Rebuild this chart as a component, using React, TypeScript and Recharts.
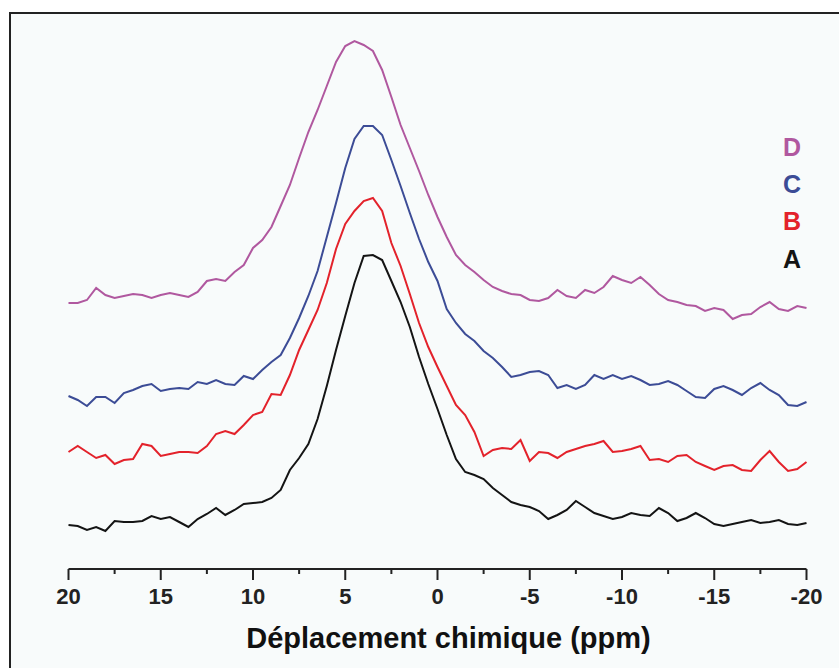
import { LineChart, Line, XAxis, YAxis, Legend, Label } from "recharts";

// chemical shift, ppm (axis runs 20 -> -20)
const PPM = [
  20, 19.5, 19, 18.5, 18, 17.5, 17, 16.5, 16, 15.5,
  15, 14.5, 14, 13.5, 13, 12.5, 12, 11.5, 11, 10.5,
  10, 9.5, 9, 8.5, 8, 7.5, 7, 6.5, 6, 5.5,
  5, 4.5, 4, 3.5, 3, 2.5, 2, 1.5, 1, 0.5,
  0, -0.5, -1, -1.5, -2, -2.5, -3, -3.5, -4, -4.5,
  -5, -5.5, -6, -6.5, -7, -7.5, -8, -8.5, -9, -9.5,
  -10, -10.5, -11, -11.5, -12, -12.5, -13, -13.5, -14, -14.5,
  -15, -15.5, -16, -16.5, -17, -17.5, -18, -18.5, -19, -19.5,
  -20,
];

// stacked spectra, intensity incl. vertical offset (arbitrary units)
const SPECTRUM_A = [
  44, 43, 39, 42, 38, 48, 47, 47, 48, 53,
  50, 52, 47, 42, 50, 55, 61, 54, 59, 65,
  66, 67, 71, 79, 99, 111, 125, 150, 183, 219,
  253, 286, 313, 314, 309, 288, 267, 242, 212, 185,
  160, 134, 110, 97, 94, 90, 81, 74, 67, 64,
  62, 58, 50, 54, 59, 68, 62, 56, 53, 50,
  52, 56, 54, 53, 61, 56, 48, 51, 56, 51,
  45, 43, 45, 47, 49, 46, 47, 49, 45, 44,
  46,
];

const SPECTRUM_B = [
  117, 123, 117, 111, 114, 105, 109, 110, 125, 123,
  113, 115, 117, 117, 116, 123, 135, 138, 135, 144,
  154, 157, 175, 174, 194, 219, 239, 259, 286, 320,
  345, 358, 368, 371, 358, 326, 303, 275, 246, 222,
  202, 183, 164, 154, 137, 113, 119, 121, 120, 129,
  108, 117, 116, 111, 117, 120, 123, 125, 128, 117,
  118, 120, 123, 109, 110, 107, 113, 114, 107, 103,
  99, 103, 104, 99, 98, 109, 118, 107, 98, 100,
  107,
];

const SPECTRUM_C = [
  173, 169, 163, 172, 172, 166, 176, 179, 183, 185,
  178, 180, 181, 180, 187, 185, 189, 185, 184, 193,
  190, 199, 207, 214, 231, 251, 273, 298, 332, 366,
  401, 430, 443, 443, 434, 409, 383, 356, 330, 307,
  288, 260, 246, 235, 228, 218, 211, 202, 192, 194,
  197, 198, 194, 181, 184, 180, 184, 194, 190, 194,
  190, 193, 189, 184, 185, 188, 184, 178, 172, 171,
  180, 183, 179, 174, 181, 186, 179, 174, 164, 163,
  167,
];

const SPECTRUM_D = [
  266, 266, 269, 281, 274, 271, 273, 275, 274, 271,
  274, 276, 274, 272, 277, 288, 290, 288, 297, 304,
  321, 329, 342, 363, 384, 411, 437, 459, 483, 507,
  523, 528, 524, 518, 499, 472, 444, 421, 398, 374,
  352, 332, 314, 304, 297, 289, 282, 278, 275, 274,
  269, 268, 271, 279, 273, 271, 279, 276, 282, 293,
  289, 286, 292, 284, 275, 269, 267, 264, 263, 258,
  261, 259, 250, 254, 255, 262, 267, 260, 258, 263,
  261,
];

const TICKS = [20, 17.5, 15, 12.5, 10, 7.5, 5, 2.5, 0, -2.5, -5, -7.5, -10, -12.5, -15, -17.5, -20];

const SERIES = [
  { key: "A", color: "#141414" },
  { key: "B", color: "#e3222b" },
  { key: "C", color: "#3c4c96" },
  { key: "D", color: "#b0589f" },
];

const data = PPM.map((ppm, i) => ({
  ppm,
  A: SPECTRUM_A[i],
  B: SPECTRUM_B[i],
  C: SPECTRUM_C[i],
  D: SPECTRUM_D[i],
}));

const FONT = '"Liberation Sans", Arial, sans-serif';
const INK = "#222";

function PpmTick({ x, y, payload }: { x: number; y: number; payload: { value: number } }) {
  const major = payload.value % 5 === 0;
  return (
    <g>
      <line x1={x} x2={x} y1={y} y2={y + (major ? 11 : 5)} stroke={INK} strokeWidth={2} />
      {major && (
        <text x={x} y={y + 35} textAnchor="middle" fontSize={22} fontWeight="bold" fill={INK} fontFamily={FONT}>
          {payload.value}
        </text>
      )}
    </g>
  );
}

function AxisTitle({ viewBox }: { viewBox?: { x: number; y: number; width: number } }) {
  if (!viewBox) return null;
  return (
    <text
      x={viewBox.x + viewBox.width / 2 + 11}
      y={viewBox.y + 79}
      textAnchor="middle"
      fontSize={29}
      fontWeight="bold"
      fill="#111"
      fontFamily={FONT}
    >
      Déplacement chimique (ppm)
    </text>
  );
}

function LetterLegend({ payload }: { payload?: { value: string; color: string }[] }) {
  const items = [...(payload ?? [])].sort((a, b) => (a.value < b.value ? 1 : -1));
  return (
    <div style={{ fontFamily: FONT, fontWeight: "bold", fontSize: 25, lineHeight: "37.3px", textAlign: "center" }}>
      {items.map((it) => (
        <div key={it.value} style={{ color: it.color }}>
          {it.value}
        </div>
      ))}
    </div>
  );
}

export default function App() {
  return (
    <div style={{ position: "absolute", left: 0, top: 0, width: 839, height: 668, background: "#fff", overflow: "hidden" }}>
      {/* frame: only top and left edges show in the original */}
      <div
        style={{
          position: "absolute",
          left: 9,
          top: 12,
          right: -4,
          bottom: -4,
          borderTop: "2px solid #222",
          borderLeft: "2px solid #222",
          background: "#f8fbfb",
        }}
      />
      <div style={{ position: "absolute", left: 0, top: 0 }}>
        <LineChart width={839} height={668} data={data} margin={{ top: 29, right: 32.5, bottom: 0, left: 68.5 }}>
          <XAxis
            dataKey="ppm"
            type="number"
            domain={[-20, 20]}
            reversed
            ticks={TICKS}
            interval={0}
            tick={PpmTick}
            tickLine={false}
            tickSize={0}
            tickMargin={0}
            axisLine={{ stroke: INK, strokeWidth: 2 }}
            height={99}
          >
            <Label content={<AxisTitle />} />
          </XAxis>
          <YAxis hide domain={[0, 540]} />
          <Legend
            layout="vertical"
            align="center"
            verticalAlign="middle"
            wrapperStyle={{ top: 128.7, left: 777, width: 30 }}
            content={<LetterLegend />}
          />
          {SERIES.map((s) => (
            <Line
              key={s.key}
              type="linear"
              dataKey={s.key}
              name={s.key}
              stroke={s.color}
              strokeWidth={2}
              dot={false}
              isAnimationActive={false}
            />
          ))}
        </LineChart>
      </div>
    </div>
  );
}
